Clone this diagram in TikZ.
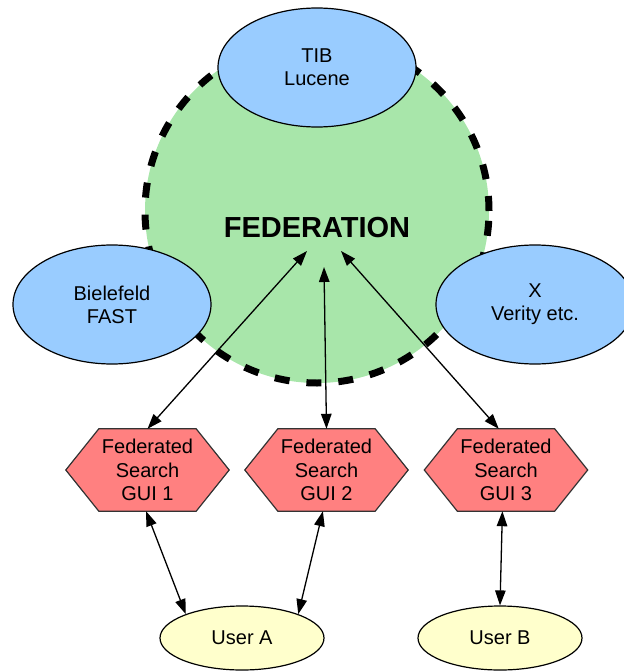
\documentclass[tikz,border=0pt]{standalone}
\usepackage{fontspec}
\setmainfont{Liberation Sans}
\usetikzlibrary{arrows.meta,calc,backgrounds,shapes.geometric}
\definecolor{fedgreen}{RGB}{168,230,170}
\definecolor{dbblue}{RGB}{153,204,255}
\definecolor{guired}{RGB}{255,128,128}
\definecolor{useryellow}{RGB}{255,255,204}
\begin{document}
\begin{tikzpicture}[x=1pt,y=-1pt,
  fedcircle/.style={circle, fill=fedgreen, draw=black, line width=7pt,
    dash pattern=on 15pt off 17pt, minimum size=344pt, inner sep=0pt},
  fedlabel/.style={font=\fontsize{29}{34}\selectfont\bfseries, inner sep=0pt},
  dbnode/.style={ellipse, draw=black, line width=1.2pt, fill=dbblue,
    minimum width=198pt, minimum height=119pt, inner sep=0pt, align=center,
    font=\fontsize{20}{23}\selectfont},
  guinode/.style={rectangle, minimum width=163pt, minimum height=82pt,
    inner sep=0pt, align=center, font=\fontsize{20}{23.5}\selectfont},
  hexa/.style={fill=guired, draw=black!80, line width=1.2pt, line join=miter},
  usernode/.style={ellipse, draw=black, line width=1.2pt, fill=useryellow,
    minimum width=164pt, minimum height=64pt, inner sep=0pt,
    font=\fontsize{20}{24}\selectfont},
  link/.style={line width=1.3pt, {Triangle[length=15pt,width=10.5pt]}-{Triangle[length=15pt,width=10.5pt]}}
]
\useasboundingbox (0,0) rectangle (623,671);

% federation circle
\node[fedcircle] (fed) at (317,211) {};
\node[fedlabel] (fedl) at (317,228) {FEDERATION};

% search engines
\node[dbnode] (tib) at (317,67.5) {TIB\\Lucene};
\node[dbnode] (bie) at (112,304.5) {Bielefeld\\FAST};
\node[dbnode] (x) at (535,304.5) {X\\Verity etc.};

% GUIs
\node[guinode] (g1) at (147.5,470) {Federated\\Search\\GUI 1};
\node[guinode] (g2) at (326.5,470) {Federated\\Search\\GUI 2};
\node[guinode] (g3) at (506,470) {Federated\\Search\\GUI 3};
\begin{pgfonlayer}{background}
\foreach \g in {g1,g2,g3}{
  \path[hexa] (\g.west) -- ($(\g.north west)+(33,0)$) -- ($(\g.north east)+(-33,0)$)
    -- (\g.east) -- ($(\g.south east)+(-33,0)$) -- ($(\g.south west)+(33,0)$) -- cycle;
}
\end{pgfonlayer}

% users
\node[usernode] (ua) at (242,638) {User A};
\node[usernode] (ub) at (500,638) {User B};

% federation end points
\coordinate (f1) at (307,251);
\coordinate (f2) at (324,267);
\coordinate (f3) at (341,251);

% connectors
\draw[link] (g1.north) -- (f1);
\draw[link] (g2.north) -- (f2);
\draw[link] (g3.100) -- (f3);
\draw[link] (g1.-92) -- (ua.157);
\draw[link] (g2.-95) -- (ua.23);
\draw[link] (g3.-95) -- (ub.north);
\end{tikzpicture}
\end{document}
